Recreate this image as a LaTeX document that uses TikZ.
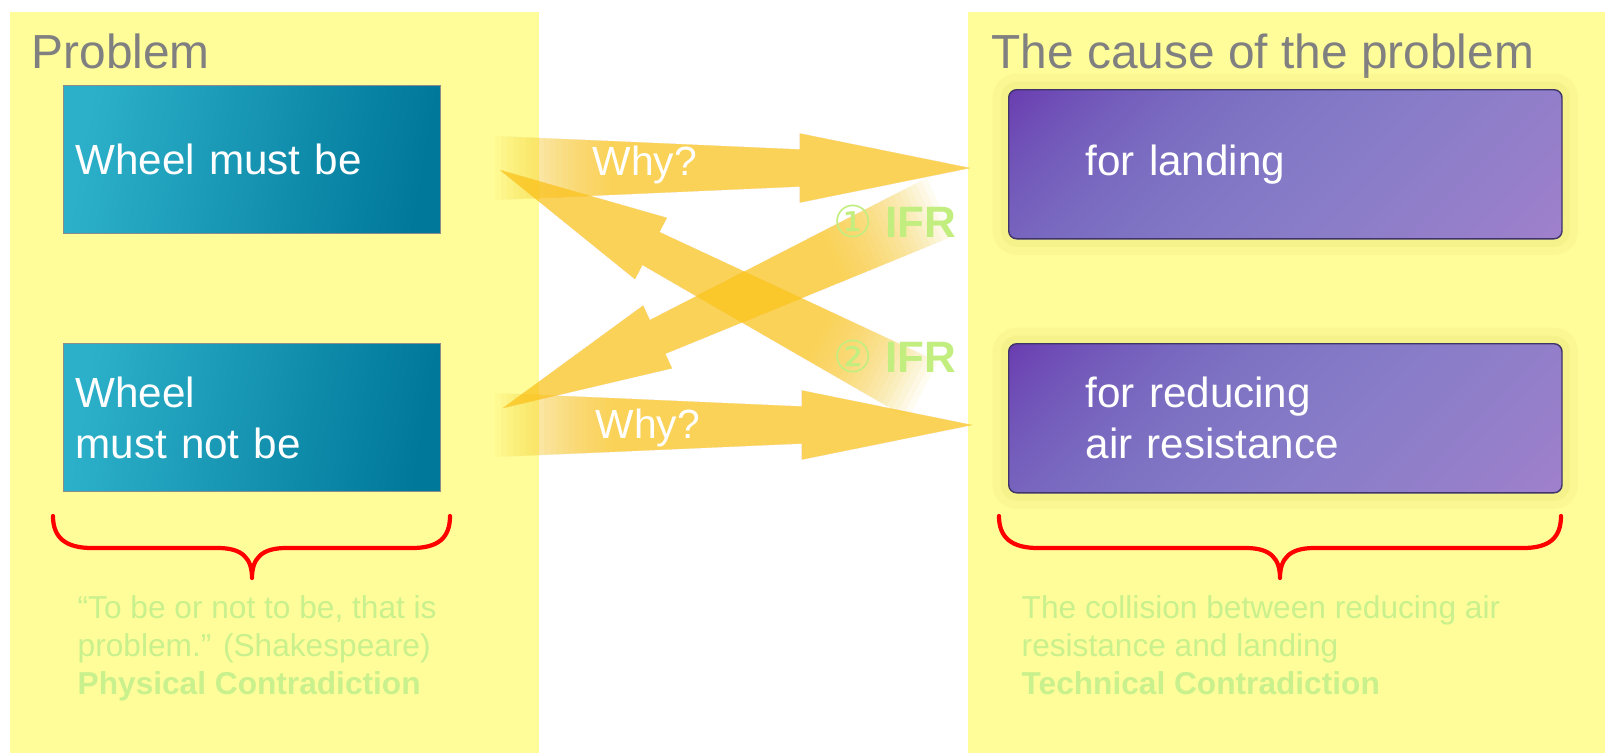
\documentclass[tikz,border=0pt]{standalone}
\usepackage{fontspec}
\setmainfont{Liberation Sans}
\newfontfamily\symfont{DejaVu Sans}
\usetikzlibrary{calc}

\definecolor{panelyellow}{HTML}{FFFD99}
\definecolor{titlegray}{HTML}{808080}
\definecolor{tealL}{HTML}{2CB0C9}
\definecolor{tealR}{HTML}{00789A}
\definecolor{violetEdge}{HTML}{3E3468}
\definecolor{glowyellow}{HTML}{D8D060}
\definecolor{arrowyellow}{HTML}{FAC820}
\definecolor{ifrgreen}{HTML}{C2EE80}
\definecolor{notegreen}{HTML}{C8F08C}
\definecolor{bracered}{HTML}{FF0000}

% violet box fill: dark purple corner top left, blue middle, lilac bottom right
\pgfdeclarefunctionalshading{violetfill}{\pgfpointorigin}{\pgfpoint{100bp}{100bp}}{}{
  75 exch sub 50 div 148 mul
  exch 25 sub 50 div 553 mul add 701 div
  dup 1 exch sub dup mul dup mul -0.070 mul 1 index dup mul 0.141 mul add 0.486 add exch
  dup 1 exch sub dup mul dup mul -0.251 mul 1 index dup mul 0.016 mul add 0.486 add exch
  dup 1 exch sub dup mul dup mul -0.086 mul 1 index dup mul 0.024 mul add 0.776 add exch
  pop
}

% block arrow {tail}{tip}, tail faded by stacked layers
\newcommand{\blockarrow}[2]{%
  \coordinate (#1-hb) at ($(#2)!17mm!(#1)$);
  \coordinate (#1-tl) at ($(#1)!3.2mm!90:(#2)$);
  \coordinate (#1-tr) at ($(#1)!3.2mm!-90:(#2)$);
  \coordinate (#1-sl) at ($(#1-hb)!1.85mm!90:(#2)$);
  \coordinate (#1-sr) at ($(#1-hb)!1.85mm!-90:(#2)$);
  \coordinate (#1-bl) at ($(#1-hb)!3.45mm!90:(#2)$);
  \coordinate (#1-br) at ($(#1-hb)!3.45mm!-90:(#2)$);
  \foreach \k in {0,...,19}
    \fill[arrowfill] ($(#1-tl)!\k*0.02!(#1-sl)$) -- (#1-sl) -- (#1-bl) -- (#2)
      -- (#1-br) -- (#1-sr) -- ($(#1-tr)!\k*0.02!(#1-sr)$) -- cycle;
}

\begin{document}
\begin{tikzpicture}[
  x=0.01cm, y=-0.01cm,
  title/.style={anchor=base west, inner sep=0pt, text=titlegray,
                font=\fontsize{13.6}{16}\selectfont},
  tealbox/.style={anchor=north west, draw=black!45, line width=0.3pt,
                  left color=tealL, right color=tealR, shading angle=80,
                  minimum width=37.7mm, minimum height=14.8mm, text width=35.3mm,
                  inner xsep=1.2mm, inner ysep=0pt, align=left, text=white,
                  font=\fontsize{12}{14.5}\selectfont},
  violetbox/.style={anchor=north west, rounded corners=0.8mm,
                    preaction={draw=glowyellow, line width=3.2mm, opacity=0.1},
                    preaction={draw=glowyellow, line width=1.6mm, opacity=0.15},
                    shade, shading=violetfill, draw=violetEdge, line width=0.4pt,
                    minimum width=55.3mm, minimum height=14.9mm, text width=39.9mm,
                    inner xsep=7.7mm, inner ysep=0pt, align=left, text=white,
                    font=\fontsize{12}{14.5}\selectfont},
  arrowfill/.style={fill=arrowyellow, fill opacity=0.062},
  why/.style={anchor=base west, inner sep=0pt, text=white,
              font=\fontsize{11.6}{14}\selectfont},
  ifr/.style={anchor=base west, inner sep=0pt, text=ifrgreen,
              font=\fontsize{12.5}{15}\selectfont},
  note/.style={anchor=north west, inner sep=0pt, align=left, text=notegreen,
               font=\fontsize{9}{10.8}\selectfont},
  brace/.style={draw=bracered, line width=1.2pt, line cap=round, line join=round}
]

% canvas and the two panels
\useasboundingbox[fill=white] (0,0) rectangle (1605,753);
\fill[panelyellow] (10,12) rectangle (539,753);
\fill[panelyellow] (968,12) rectangle (1605,753);

% titles
\node[title] (probtitle) at (31,68) {Problem};
\node[title] (causetitle) at (991,68) {The cause of the problem};

% problem boxes
\node[tealbox] (mustbe) at (63,85) {Wheel must be};
\node[tealbox] (mustnotbe) at (63,343) {Wheel\\must not be};

% cause boxes
\node[violetbox] (landing) at (1008,89) {for landing};
\node[violetbox] (airres) at (1008,343) {for reducing\\air resistance};

% arrow ends
\coordinate (why1tail) at (495,168);
\coordinate (why1tip) at (970,168);
\coordinate (why2tail) at (495,425);
\coordinate (why2tip) at (972,425);
\coordinate (ifr1tail) at (940,207);
\coordinate (ifr1tip) at (503,408);
\coordinate (ifr2tail) at (923,390);
\coordinate (ifr2tip) at (500,170);

% block arrows
\blockarrow{ifr2tail}{ifr2tip}
\blockarrow{ifr1tail}{ifr1tip}
\blockarrow{why1tail}{why1tip}
\blockarrow{why2tail}{why2tip}

% arrow labels
\node[why] (why1) at (592,175) {Why?};
\node[why] (why2) at (595,438) {Why?};
\node[ifr] (ifr1) at (833,237) {{\symfont ①} \textbf{IFR}};
\node[ifr] (ifr2) at (833,372) {{\symfont ②} \textbf{IFR}};

% braces
\draw[brace] (53,516) .. controls (53,538) and (66,548) .. (92,548) -- (218,548)
  .. controls (242,548) and (252,558) .. (252,578)
  .. controls (252,558) and (262,548) .. (286,548) -- (412,548)
  .. controls (438,548) and (450,538) .. (450,516);
\draw[brace] (999,516) .. controls (999,538) and (1012,548) .. (1038,548) -- (1246,548)
  .. controls (1270,548) and (1280,558) .. (1280,578)
  .. controls (1280,558) and (1290,548) .. (1314,548) -- (1523,548)
  .. controls (1549,548) and (1561,538) .. (1561,516);

% notes under the braces
\node[note] (quote) at (77,595) {“To be or not to be, that is\\problem.” (Shakespeare)\\\textbf{Physical Contradiction}};
\node[note] (collision) at (1021,595) {The collision between reducing air\\resistance and landing\\\textbf{Technical Contradiction}};

\end{tikzpicture}
\end{document}
